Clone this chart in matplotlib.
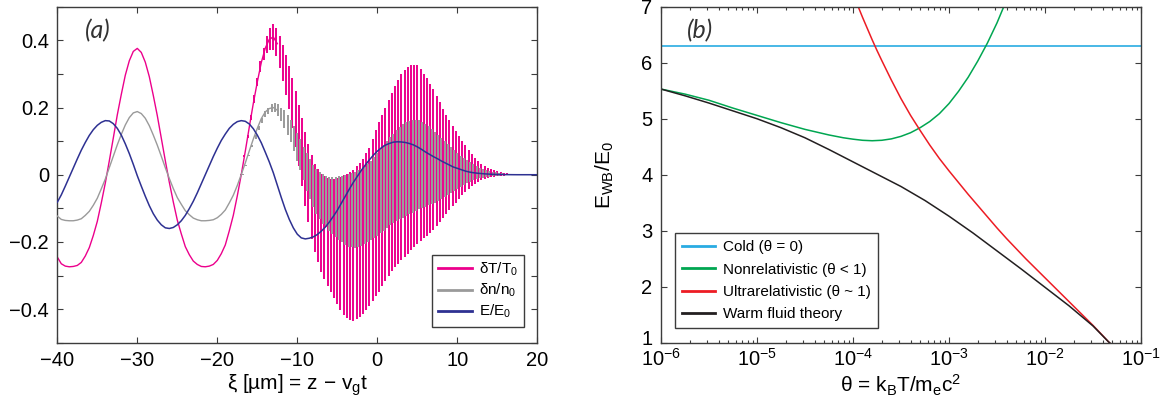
import numpy as np
import matplotlib
matplotlib.use('Agg')
import matplotlib.pyplot as plt
from matplotlib.transforms import ScaledTranslation

plt.rcParams['font.family'] = ['Liberation Sans', 'DejaVu Sans']
plt.rcParams['mathtext.fontset'] = 'custom'
plt.rcParams['mathtext.rm'] = 'Liberation Sans'
plt.rcParams['mathtext.it'] = 'Liberation Sans:italic'
plt.rcParams['mathtext.default'] = 'regular'

# ---------------- panel (a) data ----------------
# smooth part of the curves, xi = -40 ... -12.5 um, step 0.5
xi_smooth = np.arange(-40, -12.49, 0.5)
dT_smooth = [-0.245, -0.265, -0.272, -0.274, -0.273, -0.270, -0.261, -0.242, -0.217, -0.181,
             -0.139, -0.084, -0.025, 0.041, 0.109, 0.178, 0.239, 0.296, 0.339, 0.367,
             0.376, 0.364, 0.335, 0.292, 0.236, 0.176, 0.109, 0.042, -0.022, -0.081,
             -0.135, -0.176, -0.214, -0.238, -0.257, -0.267, -0.273, -0.274, -0.272, -0.267,
             -0.255, -0.235, -0.209, -0.167, -0.121, -0.063, 0.001, 0.070, 0.142, 0.212,
             0.276, 0.334, 0.377, 0.403, 0.410, 0.390]
dn_smooth = [-0.123, -0.133, -0.136, -0.137, -0.137, -0.135, -0.131, -0.121, -0.109, -0.091,
             -0.070, -0.042, -0.013, 0.021, 0.055, 0.089, 0.120, 0.148, 0.170, 0.184,
             0.188, 0.182, 0.168, 0.146, 0.118, 0.088, 0.055, 0.021, -0.011, -0.041,
             -0.068, -0.088, -0.107, -0.119, -0.129, -0.134, -0.137, -0.137, -0.136, -0.134,
             -0.128, -0.118, -0.105, -0.084, -0.061, -0.032, 0.001, 0.035, 0.071, 0.106,
             0.138, 0.167, 0.187, 0.197, 0.200, 0.192]

# fast oscillation: crest / trough of each period, xi = -17 ... 18.2 um, step 0.4
xi_osc = np.arange(-17, 18.21, 0.4)
dT_hi = [0.003, 0.059, 0.117, 0.177, 0.236, 0.288, 0.337, 0.378, 0.412, 0.436,
         0.448, 0.436, 0.413, 0.385, 0.355, 0.325, 0.287, 0.249, 0.209, 0.168,
         0.127, 0.092, 0.058, 0.033, 0.017, 0.001, -0.005, -0.011, -0.014, -0.012,
         -0.010, -0.006, -0.002, 0.003, 0.009, 0.015, 0.025, 0.035, 0.048, 0.064,
         0.080, 0.106, 0.132, 0.156, 0.178, 0.200, 0.222, 0.244, 0.264, 0.283,
         0.301, 0.311, 0.321, 0.326, 0.327, 0.327, 0.315, 0.301, 0.287, 0.271,
         0.255, 0.235, 0.215, 0.197, 0.179, 0.163, 0.146, 0.129, 0.114, 0.101,
         0.088, 0.075, 0.062, 0.051, 0.042, 0.033, 0.027, 0.021, 0.016, 0.013,
         0.010, 0.008, 0.006, 0.004, 0.003, 0.002, 0.001, 0.001, 0.000]
dT_lo = [-0.001, 0.053, 0.109, 0.163, 0.214, 0.264, 0.307, 0.342, 0.362, 0.372,
         0.372, 0.352, 0.319, 0.279, 0.237, 0.195, 0.139, 0.083, 0.025, -0.034,
         -0.093, -0.142, -0.190, -0.231, -0.261, -0.291, -0.311, -0.331, -0.350, -0.368,
         -0.386, -0.402, -0.418, -0.427, -0.431, -0.435, -0.429, -0.423, -0.414, -0.402,
         -0.390, -0.376, -0.362, -0.348, -0.332, -0.316, -0.302, -0.288, -0.276, -0.265,
         -0.255, -0.245, -0.235, -0.225, -0.215, -0.205, -0.197, -0.189, -0.181, -0.173,
         -0.165, -0.153, -0.141, -0.129, -0.117, -0.105, -0.094, -0.083, -0.072, -0.061,
         -0.050, -0.042, -0.034, -0.027, -0.022, -0.017, -0.014, -0.011, -0.008, -0.007,
         -0.005, -0.004, -0.003, -0.002, -0.001, -0.001, -0.001, 0.000, 0.000]
dn_hi = [0.002, 0.030, 0.059, 0.089, 0.118, 0.144, 0.169, 0.189, 0.200, 0.210,
         0.214, 0.210, 0.200, 0.193, 0.178, 0.163, 0.144, 0.125, 0.105, 0.084,
         0.064, 0.046, 0.029, 0.017, 0.009, 0.001, -0.003, -0.006, -0.007, -0.006,
         -0.005, -0.003, -0.001, 0.002, 0.005, 0.008, 0.013, 0.018, 0.024, 0.032,
         0.040, 0.053, 0.066, 0.078, 0.089, 0.100, 0.111, 0.122, 0.132, 0.142,
         0.151, 0.156, 0.161, 0.163, 0.164, 0.164, 0.158, 0.151, 0.144, 0.136,
         0.128, 0.118, 0.108, 0.099, 0.090, 0.082, 0.073, 0.065, 0.057, 0.051,
         0.044, 0.038, 0.031, 0.026, 0.021, 0.017, 0.014, 0.011, 0.008, 0.007,
         0.005, 0.004, 0.003, 0.002, 0.002, 0.001, 0.001, 0.001, 0.000]
dn_lo = [-0.001, 0.027, 0.055, 0.082, 0.107, 0.132, 0.154, 0.171, 0.181, 0.186,
         0.186, 0.176, 0.160, 0.140, 0.119, 0.098, 0.070, 0.042, 0.013, -0.017,
         -0.047, -0.071, -0.095, -0.116, -0.131, -0.146, -0.156, -0.166, -0.175, -0.184,
         -0.193, -0.201, -0.209, -0.214, -0.216, -0.218, -0.215, -0.212, -0.207, -0.201,
         -0.195, -0.188, -0.181, -0.174, -0.166, -0.158, -0.151, -0.144, -0.138, -0.133,
         -0.128, -0.123, -0.118, -0.113, -0.108, -0.103, -0.099, -0.095, -0.091, -0.087,
         -0.083, -0.077, -0.071, -0.065, -0.059, -0.053, -0.047, -0.042, -0.036, -0.031,
         -0.025, -0.021, -0.017, -0.014, -0.011, -0.009, -0.007, -0.006, -0.004, -0.004,
         -0.003, -0.002, -0.002, -0.001, -0.001, -0.001, -0.001, 0.000, 0.000]

# electric field, xi = -40 ... 20 um, step 0.5
xi_E = np.arange(-40, 20.01, 0.5)
E_field = [-0.082, -0.060, -0.034, -0.007, 0.020, 0.047, 0.073, 0.096, 0.117, 0.134,
           0.147, 0.156, 0.161, 0.160, 0.152, 0.138, 0.118, 0.092, 0.063, 0.031,
           -0.003, -0.034, -0.064, -0.092, -0.116, -0.135, -0.149, -0.158, -0.160, -0.157,
           -0.149, -0.137, -0.121, -0.101, -0.079, -0.054, -0.027, 0.000, 0.027, 0.054,
           0.079, 0.102, 0.121, 0.138, 0.150, 0.158, 0.161, 0.159, 0.151, 0.137,
           0.118, 0.095, 0.067, 0.038, 0.006, -0.031, -0.068, -0.103, -0.133, -0.158,
           -0.177, -0.188, -0.191, -0.189, -0.185, -0.178, -0.168, -0.156, -0.141, -0.124,
           -0.106, -0.085, -0.064, -0.043, -0.023, -0.005, 0.013, 0.029, 0.044, 0.058,
           0.070, 0.080, 0.088, 0.093, 0.097, 0.098, 0.0975, 0.096, 0.093, 0.089,
           0.083, 0.076, 0.068, 0.061, 0.054, 0.048, 0.041, 0.035, 0.029, 0.023,
           0.019, 0.015, 0.011, 0.008, 0.006, 0.0045, 0.0035, 0.0025, 0.0018, 0.0012,
           0.0008, 0.0005, 0.0003, 0.0002, 0.0001, 0, 0, 0, 0, 0,
           0]

xticks_a = [-40, -30, -20, -10, 0, 10, 20]
xtick_labels_a = ['\u221240', '\u221230', '\u221220', '\u221210', '0', '10', '20']
yticks_a = [-0.4, -0.2, 0, 0.2, 0.4]
ytick_labels_a = ['\u22120.4', '\u22120.2', '0', '0.2', '0.4']
labels_a = ['\u03b4T/T$_0$', '\u03b4n/n$_0$', 'E/E$_0$']

# ---------------- panel (b) data (log10 theta, E_WB/E_0) ----------------
cold_logtheta = [-6, -1]
cold_E = [6.3, 6.3]
nonrel_logtheta = [-6.0, -5.75, -5.5, -5.25, -5.0, -4.75, -4.5, -4.25, -4.1, -4.0,
                   -3.9, -3.8, -3.7, -3.6, -3.5, -3.4, -3.3, -3.2, -3.1, -3.0,
                   -2.9, -2.8, -2.7, -2.6, -2.5, -2.4]
nonrel_E = [5.53, 5.44, 5.33, 5.19, 5.06, 4.93, 4.81, 4.71, 4.66, 4.635,
            4.615, 4.607, 4.615, 4.64, 4.685, 4.75, 4.84, 4.95, 5.09, 5.27,
            5.49, 5.74, 6.03, 6.35, 6.71, 7.12]
ultra_logtheta = [-4.0, -3.95, -3.9, -3.85, -3.8, -3.75, -3.7, -3.6, -3.5, -3.4,
                  -3.3, -3.2, -3.1, -3.0, -2.9, -2.8, -2.7, -2.6, -2.5, -2.4,
                  -2.3, -2.2, -2.1, -2.0, -1.9, -1.8, -1.7, -1.6, -1.5, -1.4,
                  -1.34, -1.3]
ultra_E = [7.22, 7.02, 6.81, 6.61, 6.41, 6.22, 6.04, 5.69, 5.36, 5.06,
           4.79, 4.53, 4.29, 4.07, 3.86, 3.65, 3.45, 3.25, 3.05, 2.86,
           2.68, 2.50, 2.33, 2.16, 1.99, 1.82, 1.65, 1.48, 1.31, 1.13,
           1.02, 0.95]
warm_logtheta = [-6.0, -5.75, -5.5, -5.25, -5.0, -4.75, -4.5, -4.25, -4.125, -4.0,
                 -3.875, -3.75, -3.5, -3.25, -3.0, -2.75, -2.5, -2.25, -2.0, -1.75,
                 -1.5, -1.34, -1.3]
warm_E = [5.53, 5.41, 5.28, 5.14, 5.00, 4.84, 4.66, 4.45, 4.34, 4.23,
          4.12, 4.01, 3.79, 3.54, 3.26, 2.96, 2.64, 2.32, 1.99, 1.66,
          1.30, 1.02, 0.96]
labels_b = ['Cold (\u03b8 = 0)', 'Nonrelativistic (\u03b8 < 1)',
            'Ultrarelativistic (\u03b8 ~ 1)', 'Warm fluid theory']

pink = '#EC008C'
grey = '#9A9A9A'
navy = '#2E3192'
frame = '#3c3c3c'

fig = plt.figure(figsize=(11.62, 4.08), dpi=100)
ax1 = fig.add_axes([0.0493, 0.160, 0.4131, 0.8235])
ax2 = fig.add_axes([0.5688, 0.160, 0.4131, 0.8235])

# ---- (a)
l1, = ax1.plot(xi_smooth, dT_smooth, color=pink, lw=1.0, zorder=2)
ax1.vlines(xi_osc, dT_lo, dT_hi, colors=pink, lw=1.4, zorder=2)
l2, = ax1.plot(xi_smooth, dn_smooth, color=grey, lw=1.0, zorder=3)
ax1.vlines(xi_osc + 0.2, dn_lo, dn_hi, colors=grey, lw=1.4, zorder=3)
l3, = ax1.plot(xi_E, E_field, color=navy, lw=1.1, zorder=4)

ax1.set_xlim(-40, 20)
ax1.set_ylim(-0.5, 0.5)
ax1.set_xticks(xticks_a)
ax1.set_xticklabels(xtick_labels_a)
ax1.set_yticks(yticks_a)
ax1.set_yticklabels(ytick_labels_a)
ax1.set_yticks([-0.5, -0.3, -0.1, 0.1, 0.3, 0.5], minor=True)
ax1.set_xlabel('\u03be [\u00b5m] = z \u2212 v$_g$t', fontsize=15, labelpad=2)
ax1.text(0.058, 0.93, '(a)', transform=ax1.transAxes, fontsize=18, style='italic',
         family='Lato', color='#333333', va='center')
leg1 = ax1.legend([l1, l2, l3], labels_a, loc='lower right', bbox_to_anchor=(0.973, 0.048),
                  borderaxespad=0, fontsize=11, fancybox=False, framealpha=1,
                  edgecolor=frame, handlelength=2.2, handletextpad=0.5,
                  labelspacing=0.25, borderpad=0.4)

# ---- (b)
c1, = ax2.plot(10.0 ** np.array(cold_logtheta), cold_E, color='#29ABE2', lw=1.2)
c2, = ax2.plot(10.0 ** np.array(nonrel_logtheta), nonrel_E, color='#00A651', lw=1.1)
c3, = ax2.plot(10.0 ** np.array(ultra_logtheta), ultra_E, color='#ED1C24', lw=1.1)
c4, = ax2.plot(10.0 ** np.array(warm_logtheta), warm_E, color='#231F20', lw=1.1)
ax2.set_xscale('log')
ax2.set_xlim(1e-6, 1e-1)
ax2.set_ylim(1, 7)
ax2.set_yticks([1, 2, 3, 4, 5, 6, 7])
ax2.set_ylabel('E$_{WB}$/E$_0$', fontsize=15, labelpad=18)
ax2.set_xlabel('\u03b8 = k$_B$T/m$_e$c$^2$', fontsize=15, labelpad=2)
ax2.text(0.055, 0.93, '(b)', transform=ax2.transAxes, fontsize=18, style='italic',
         family='Lato', color='#333333', va='center')
leg2 = ax2.legend([c1, c2, c3, c4], labels_b, loc='lower left', bbox_to_anchor=(0.0285, 0.043),
                  borderaxespad=0, fontsize=11, fancybox=False, framealpha=1,
                  edgecolor=frame, handlelength=2.2, handletextpad=0.5,
                  labelspacing=0.55, borderpad=0.45)

for leg in (leg1, leg2):
    leg.get_frame().set_linewidth(1.0)
    for h in leg.get_lines():
        h.set_linewidth(2.0)

for ax in (ax1, ax2):
    ax.tick_params(which='both', direction='in', top=True, right=True,
                   color=frame, width=0.8, labelsize=14.5, pad=6)
    ax.tick_params(which='major', length=4.5)
    ax.tick_params(which='minor', length=4.5 if ax is ax1 else 2.5)
    for s in ax.spines.values():
        s.set_color(frame)
        s.set_linewidth(1.0)
ax2.tick_params(axis='x', pad=4)

# lift the lowest y label of (b) a little so it clears the "10^-6" label
fig.canvas.draw()
one = ax2.yaxis.get_major_ticks()[0].label1
one.set_transform(one.get_transform() + ScaledTranslation(0, 4 / 72, fig.dpi_scale_trans))

fig.savefig('out.png', dpi=100)
